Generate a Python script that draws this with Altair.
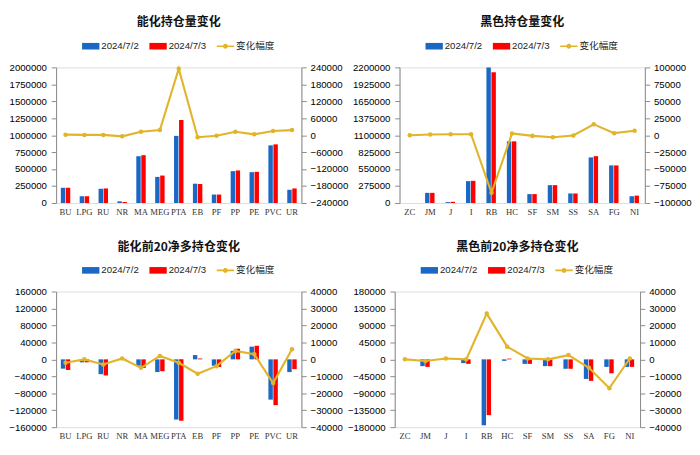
import altair as alt
import pandas as pd

S1, S2, S3 = "2024/7/2", "2024/7/3", "变化幅度"
COLORS = ["#1B67C4", "#FF0000", "#E2B42A"]

# ---- 能化持仓量变化 ----
chem_cats = ["BU", "LPG", "RU", "NR", "MA", "MEG", "PTA", "EB", "PF", "PP", "PE", "PVC", "UR"]
chem_oi_a = [225000, 100000, 210000, 25000, 690000, 385000, 990000, 285000, 125000, 470000, 455000, 850000, 195000]
chem_oi_b = [225000, 100000, 215000, 15000, 705000, 405000, 1225000, 280000, 125000, 480000, 460000, 865000, 215000]
chem_oi_chg = [2000, 1000, 1000, -4000, 12000, 18000, 235000, -7000, -2000, 12000, 3000, 15000, 18000]

# ---- 黑色持仓量变化 ----
blk_cats = ["ZC", "JM", "J", "I", "RB", "HC", "SF", "SM", "SS", "SA", "FG", "NI"]
blk_oi_a = [0, 165000, 15000, 355000, 2200000, 1000000, 145000, 290000, 155000, 740000, 610000, 110000]
blk_oi_b = [0, 165000, 20000, 360000, 2120000, 1000000, 145000, 290000, 155000, 760000, 610000, 120000]
blk_oi_chg = [0, 1000, 1500, 1500, -85000, 2500, -1000, -3000, -500, 16000, 3000, 6500]

# ---- 能化前20净多持仓变化 ----
chem_net_a = [-22000, -7000, -35000, 1000, -15000, -30000, -142000, 10000, -15000, 20000, 30000, -95000, -30000]
chem_net_b = [-25000, -7000, -38000, 1000, -20000, -28000, -145000, 2000, -18000, 25000, 32000, -108000, -23000]
chem_net_chg = [-2000, 0, -3000, 500, -5000, 2000, -2000, -8500, -4000, 5000, 3000, -14000, 6000]

# ---- 黑色前20净多持仓变化 ----
blk_net_a = [0, -18000, 0, -10000, -175000, -4000, -12000, -18000, -25000, -52000, -20000, -20000]
blk_net_b = [0, -20000, 0, -12000, -148000, 2000, -12000, -18000, -25000, -57000, -37000, -20000]
blk_net_chg = [0, -1000, 500, 0, 27000, 7500, 500, 0, 2500, -5000, -17000, 500]

W, H = 255, 141
SANS = "Liberation Sans, Noto Sans CJK SC"

RECT = "M-1,-0.38H1V0.38H-1Z"
LINEDOT = ("M-1,-0.09H-0.265A0.28,0.28,0,0,1,0.265,-0.09H1V0.09H0.265"
           "A0.28,0.28,0,0,1,-0.265,0.09H-1Z")

legend = alt.Legend(
    orient="none", direction="horizontal", title=None,
    legendX=27, legendY=-31,
    labelFont=SANS, labelFontSize=10, labelColor="#222",
    symbolSize=324, symbolStrokeWidth=0, symbolOpacity=1,
    columnPadding=11, labelOffset=2,
)


def ticks(lo, hi, step):
    out, v = [], lo
    while v <= hi + 1e-9:
        out.append(v)
        v += step
    return out


def panel(title, cats, a, b, chg, ldom, lstep, rdom, rstep):
    n = len(cats)
    bars = pd.DataFrame({"cat": cats * 2, "series": [S1] * n + [S2] * n, "value": a + b})
    line = pd.DataFrame({"cat": cats, "series": [S3] * n, "value": chg})
    color = alt.Color("series:N", scale=alt.Scale(domain=[S1, S2, S3], range=COLORS), legend=legend)
    shape = alt.Shape("series:N", scale=alt.Scale(domain=[S1, S2, S3], range=[RECT, RECT, LINEDOT]),
                      legend=legend)
    xaxis = alt.Axis(labelAngle=0, ticks=False, domain=False, labelFont="Liberation Serif",
                     labelFontSize=9, labelColor="#333", labelPadding=5, title=None)
    x = alt.X("cat:N", sort=cats, title=None,
              scale=alt.Scale(paddingInner=0.5, paddingOuter=0.25), axis=xaxis)
    yl = alt.Y("value:Q", title=None,
               scale=alt.Scale(domain=ldom, nice=False, zero=False),
               axis=alt.Axis(orient="left", values=ticks(ldom[0], ldom[1], lstep), format="d",
                             grid=False, labelPadding=5))
    yr = alt.Y("value:Q", title=None,
               scale=alt.Scale(domain=rdom, nice=False, zero=False),
               axis=alt.Axis(orient="right", values=ticks(rdom[0], rdom[1], rstep), format="d",
                             grid=False, labelPadding=4))
    bar_layer = alt.Chart(bars).mark_bar().encode(
        x=x,
        xOffset=alt.XOffset("series:N", scale=alt.Scale(domain=[S1, S2], paddingInner=0.12)),
        y=yl, color=color,
    )
    base = alt.Chart(line).encode(x=x, y=yr, color=color)
    line_layer = alt.layer(
        base.mark_line(strokeWidth=2.2),
        base.mark_point(filled=True, size=22, opacity=1, shape="circle"),
    )
    # invisible point layer carrying the shape channel for the legend symbols
    legend_layer = alt.Chart(line).mark_point(filled=True, opacity=0, size=1).encode(
        x=x, y=yr, color=color, shape=shape)
    line_layer = alt.layer(line_layer, legend_layer)
    return alt.layer(bar_layer, line_layer).resolve_scale(y="independent").properties(
        width=W, height=H,
        title=alt.TitleParams(title, font="Noto Sans CJK SC", fontSize=12.5, fontWeight="bold",
                              color="#111", anchor="middle", frame="group", offset=9),
    )


p1 = panel("能化持仓量变化", chem_cats, chem_oi_a, chem_oi_b, chem_oi_chg,
           [0, 2000000], 250000, [-240000, 240000], 60000)
p2 = panel("黑色持仓量变化", blk_cats, blk_oi_a, blk_oi_b, blk_oi_chg,
           [0, 2200000], 275000, [-100000, 100000], 25000)
p3 = panel("能化前20净多持仓变化", chem_cats, chem_net_a, chem_net_b, chem_net_chg,
           [-160000, 160000], 40000, [-40000, 40000], 10000)
p4 = panel("黑色前20净多持仓变化", blk_cats, blk_net_a, blk_net_b, blk_net_chg,
           [-180000, 180000], 45000, [-40000, 40000], 10000)

row1 = alt.hconcat(p1, p2, spacing=3).resolve_scale(color="independent", shape="independent")
row2 = alt.hconcat(p3, p4, spacing=3).resolve_scale(color="independent", shape="independent")

chart = alt.vconcat(row1, row2, spacing=24).resolve_scale(
    color="independent", shape="independent"
).properties(
    padding={"top": 0, "left": 0, "right": 0, "bottom": 0}
).configure_view(stroke=None).configure_axis(
    domainColor="#595959", domainWidth=1.3, tickColor="#595959", tickSize=3,
    labelFont=SANS, labelFontSize=9, labelColor="#333",
).configure(background="white")

chart.save("out.html", embed_options={"renderer": "svg", "actions": False})
